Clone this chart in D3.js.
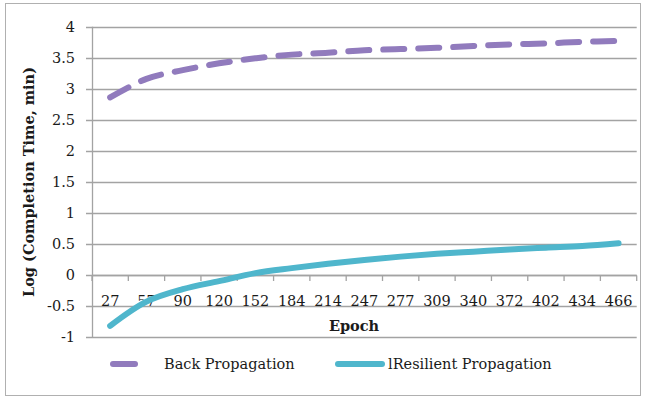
<!DOCTYPE html>
<html><head><meta charset="utf-8">
<script src="https://d3js.org/d3.v7.min.js"></script>
<style>body{margin:0;background:#fff}svg{display:block}text{font-family:"DejaVu Serif",serif;fill:#1a1a1a}</style>
</head><body><svg id="c" width="646" height="397"></svg>
<script>
const categories = ["27","57","90","120","152","184","214","247","277","309","340","372","402","434","466"];
const backProp = [2.86,3.16,3.30,3.41,3.49,3.55,3.58,3.62,3.64,3.66,3.69,3.715,3.73,3.757,3.77];
const resilientProp = [-0.82,-0.43,-0.23,-0.10,0.03,0.11,0.18,0.24,0.295,0.34,0.375,0.41,0.44,0.467,0.51];
const yTicks = [-1,-0.5,0,0.5,1,1.5,2,2.5,3,3.5,4];
const seriesNames = ["Back Propagation","lResilient Propagation"];
const colors = ["#917bbd","#4fb6cc"];

const svg = d3.select("#c");
svg.append("rect").attr("x",5.5).attr("y",3.5).attr("width",635).attr("height",392)
  .attr("fill","#fff").attr("stroke","#b0b0b0").attr("stroke-width",1);

const x = d3.scaleBand().domain(categories).range([92,636.7]);
const y = d3.scaleLinear().domain([-1,4]).range([337,26.7]);

// gridlines
svg.append("g").selectAll("line").data(yTicks).join("line")
  .attr("x1",86).attr("x2",636.7).attr("y1",d=>Math.round(y(d))+0.5).attr("y2",d=>Math.round(y(d))+0.5)
  .attr("stroke","#a3a3a3").attr("stroke-width",1.3);
// y axis line
svg.append("line").attr("x1",92.5).attr("x2",92.5).attr("y1",y(4)).attr("y2",y(-1)+0.5)
  .attr("stroke","#a3a3a3").attr("stroke-width",1.3);
// y tick labels
svg.append("g").selectAll("text").data(yTicks).join("text")
  .attr("x",75).attr("y",d=>y(d)).attr("dy","0.35em").attr("text-anchor","end")
  .style("font-size","14.5px").text(d=>d);

// x axis at 0
const gx = svg.append("g").attr("transform",`translate(0,${Math.round(y(0))+0.5})`);
gx.append("line").attr("x1",92).attr("x2",636.7).attr("stroke","#a3a3a3").attr("stroke-width",1.3);
const bounds = categories.map((c,i)=>x(c)+x.bandwidth()).concat([92]);
gx.selectAll("line.tk").data(bounds).join("line").attr("class","tk")
  .attr("x1",d=>d).attr("x2",d=>d).attr("y1",0).attr("y2",5.5).attr("stroke","#a3a3a3").attr("stroke-width",1.3);
gx.selectAll("text.tl").data(categories).join("text").attr("class","tl")
  .attr("x",d=>x(d)+x.bandwidth()/2).attr("y",30).attr("text-anchor","middle")
  .style("font-size","14.5px").text(d=>d);

// axis titles
svg.append("text").attr("x",354).attr("y",331).attr("text-anchor","middle")
  .style("font-size","14.5px").style("font-weight","bold").text("Epoch");
svg.append("text").attr("transform","translate(34,182) rotate(-90)").attr("text-anchor","middle")
  .style("font-size","14.5px").style("font-weight","bold").text("Log (Completion Time, min)");

const line = d3.line().x((d,i)=>x(categories[i])+x.bandwidth()/2).y(d=>y(d)).curve(d3.curveCatmullRom.alpha(0.5));
svg.append("path").datum(backProp).attr("d",line).attr("fill","none").attr("stroke",colors[0])
  .attr("stroke-width",6).attr("stroke-linecap","round").attr("stroke-dasharray","21,14");
svg.append("path").datum(resilientProp).attr("d",line).attr("fill","none").attr("stroke",colors[1])
  .attr("stroke-width",6).attr("stroke-linecap","round");

// legend
const leg = [{x1:110,x2:138,tx:164},{x1:335,x2:385,tx:388}];
leg.forEach((l,i)=>{
  svg.append("line").attr("x1",l.x1+3).attr("x2",l.x2-3).attr("y1",364).attr("y2",364)
    .attr("stroke",colors[i]).attr("stroke-width",6).attr("stroke-linecap","round");
  svg.append("text").attr("x",l.tx).attr("y",364).attr("dy","0.35em").style("font-size","14.5px").text(seriesNames[i]);
});
</script></body></html>
